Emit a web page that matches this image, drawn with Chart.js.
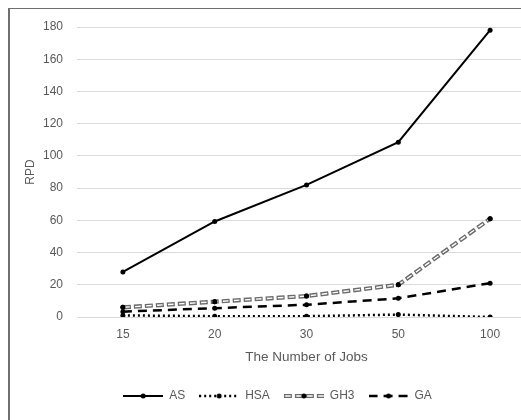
<!DOCTYPE html>
<html>
<head>
<meta charset="utf-8">
<title>RPD vs number of jobs</title>
<script src="https://cdn.jsdelivr.net/npm/chart.js@4"></script>
<style>
    html, body { margin: 0; padding: 0; background: #fff; overflow: hidden; }
    .frame {
        position: absolute; left: 8px; top: 8px; width: 600px; height: 500px;
        border-left: 2px solid #6f6f6f; border-top: 1px solid #6f6f6f;
    }
    .chart-container { position: absolute; left: 0; top: 0; width: 546px; height: 420px; }
</style>
</head>
<body>
<div class="frame"></div>
<div class="chart-container">
    <canvas id="chart" width="546" height="420"></canvas>
</div>
<script>
// values
const jobs = ['15', '20', '30', '50', '100'];
const asValues = [28, 59.3, 82, 108.5, 178];
const hsaValues = [1, 0.5, 0.5, 1.5, 0];
const gh3Values = [6, 9.5, 13, 20, 61];
const gaValues = [3.3, 5.5, 7.6, 11.6, 21];

const textColor = '#595959';
const gridColor = '#d9d9d9';
const gh3Color = '#6a6a6a';
const fontFamily = '"Liberation Sans", Arial, sans-serif';

// little canvases used as legend samples (line + marker)
function legendSample(dash, width, color, inner) {
    const c = document.createElement('canvas');
    c.width = 40;
    c.height = 10;
    const g = c.getContext('2d');
    g.setLineDash(dash);
    g.strokeStyle = color;
    g.lineWidth = width;
    g.beginPath();
    g.moveTo(0, 5);
    g.lineTo(40, 5);
    g.stroke();
    if (inner) {
        g.strokeStyle = '#fff';
        g.lineWidth = 1.4;
        g.setLineDash([dash[0] - 2.4, dash[1] + 2.4]);
        g.beginPath();
        g.moveTo(1.2, 5);
        g.lineTo(40, 5);
        g.stroke();
    }
    g.setLineDash([]);
    g.fillStyle = '#000';
    g.beginPath();
    g.arc(20, 5, 2.5, 0, Math.PI * 2);
    g.fill();
    return c;
}

const samples = {
    'AS': legendSample([], 2, '#000'),
    'HSA': legendSample([2, 3], 2.5, '#000'),
    'GH3': legendSample([8, 3], 4, gh3Color, true),
    'GA': legendSample([9, 6], 2.5, '#000')
};

const pointOpts = {
    pointRadius: 2.5,
    pointStyle: 'circle',
    pointBackgroundColor: '#000',
    pointBorderColor: '#000',
    pointBorderWidth: 0
};

const ctx = document.getElementById('chart').getContext('2d');
new Chart(ctx, {
    type: 'line',
    data: {
        labels: jobs,
        datasets: [
            { label: 'AS', data: asValues, borderColor: '#000', borderWidth: 2, ...pointOpts },
            { label: 'HSA', data: hsaValues, borderColor: '#000', borderWidth: 2.5, borderDash: [2, 3], ...pointOpts },
            { label: 'GH3', data: gh3Values, borderColor: gh3Color, borderWidth: 4.2, borderDash: [8, 3], ...pointOpts },
            {
                // white core of the double dashed GH3 line, drawn on top (markers redrawn too)
                label: 'GH3-core',
                data: gh3Values,
                borderColor: '#fff',
                borderWidth: 1.4,
                borderDash: [5.6, 5.4],
                borderDashOffset: -1.2,
                ...pointOpts,
                order: -1
            },
            { label: 'GA', data: gaValues, borderColor: '#000', borderWidth: 2.5, borderDash: [9, 6], ...pointOpts }
        ]
    },
    options: {
        responsive: false,
        animation: false,
        layout: { padding: { left: 19, right: 10, top: 27, bottom: 8 } },
        plugins: {
            legend: {
                position: 'bottom',
                labels: {
                    usePointStyle: true,
                    pointStyleWidth: 40,
                    boxHeight: 10,
                    padding: 14,
                    color: textColor,
                    font: { family: fontFamily, size: 12 },
                    filter: (item) => item.text !== 'GH3-core',
                    generateLabels: (chart) => {
                        const items = Chart.defaults.plugins.legend.labels.generateLabels(chart);
                        items.forEach(item => { item.pointStyle = samples[item.text]; });
                        return items;
                    }
                }
            },
            tooltip: { enabled: false }
        },
        scales: {
            x: {
                offset: true,
                grid: { display: false, drawTicks: false },
                border: { color: gridColor, width: 1 },
                ticks: { color: textColor, font: { family: fontFamily, size: 12 }, padding: 10 },
                title: {
                    display: true,
                    text: 'The Number of Jobs',
                    color: textColor,
                    font: { family: fontFamily, size: 13.5 },
                    padding: { top: 6, bottom: 11 }
                },
                afterFit: (scale) => { scale.height = 59; }
            },
            y: {
                min: 0,
                max: 180,
                grid: { color: gridColor, drawTicks: false },
                border: { display: false },
                ticks: {
                    stepSize: 20,
                    color: textColor,
                    font: { family: fontFamily, size: 12 },
                    padding: 14
                },
                title: {
                    display: true,
                    text: 'RPD',
                    color: textColor,
                    font: { family: fontFamily, size: 12 },
                    padding: { top: 4, bottom: 4 }
                },
                afterFit: (scale) => { scale.width = 58; }
            }
        }
    }
});
</script>
</body>
</html>
